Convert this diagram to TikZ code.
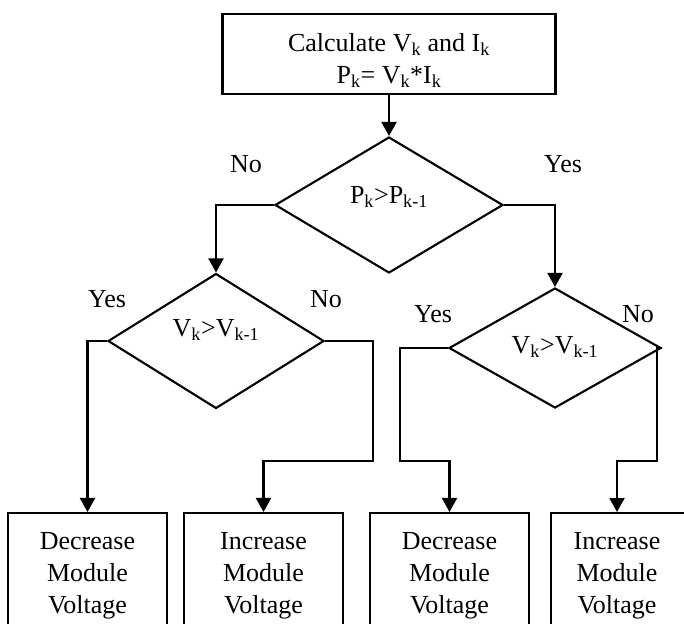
\documentclass[tikz,border=0pt]{standalone}
\usepackage{fontspec}
\setmainfont{Liberation Serif}
\usetikzlibrary{shapes.geometric,arrows.meta}
\begin{document}
\begin{tikzpicture}[x=1pt,y=-1pt,
  line width=2.1pt,
  every node/.style={font=\fontsize{26}{31}\selectfont},
  procbox/.style={draw, rectangle, inner sep=0pt},
  decision/.style={draw, diamond, inner sep=0pt},
  lbl/.style={anchor=base, inner sep=0pt},
  boxtext/.style={anchor=north, align=center, inner sep=0pt, font=\fontsize{26}{32}\selectfont},
  arr/.style={-{Triangle[width=15pt,length=14pt]}, line width=2.1pt},
]
\useasboundingbox (0,0) rectangle (684,623);

% top process box
\node[procbox, minimum width=333pt, minimum height=80pt] (top) at (389,54) {};
\node[boxtext] (toptext) at (389,32.2)
  {Calculate V\textsubscript{k} and I\textsubscript{k}\\P\textsubscript{k}= V\textsubscript{k}*I\textsubscript{k}};

% decisions
\node[decision, minimum width=228pt, minimum height=136pt] (d1) at (389,205) {};
\node[lbl] (t1) at (389,203) {P\textsubscript{k}>P\textsubscript{k-1}};

\node[decision, minimum width=216pt, minimum height=135pt] (d2) at (216,341) {};
\node[lbl] (t2) at (216,336) {V\textsubscript{k}>V\textsubscript{k-1}};

\node[decision, minimum width=212pt, minimum height=120pt] (d3) at (555,348) {};
\node[lbl] (t3) at (555,353) {V\textsubscript{k}>V\textsubscript{k-1}};

% bottom boxes
\node[procbox, minimum width=159pt, minimum height=127pt] (b1) at (87.5,576.5) {};
\node[boxtext] (bt1) at (87.5,531) {Decrease\\Module\\Voltage};
\node[procbox, minimum width=159pt, minimum height=127pt] (b2) at (263.5,576.5) {};
\node[boxtext] (bt2) at (263.5,531) {Increase\\Module\\Voltage};
\node[procbox, minimum width=159pt, minimum height=127pt] (b3) at (449.5,576.5) {};
\node[boxtext] (bt3) at (449.5,531) {Decrease\\Module\\Voltage};
\node[procbox, minimum width=142pt, minimum height=127pt] (b4) at (622,576.5) {};
\node[boxtext] (bt4) at (617,531) {Increase\\Module\\Voltage};

% labels
\node[lbl] (n1) at (246,172) {No};
\node[lbl] (y1) at (563,172) {Yes};
\node[lbl] (y2) at (107,307) {Yes};
\node[lbl] (n2) at (326,307) {No};
\node[lbl] (y3) at (433,322) {Yes};
\node[lbl] (n3) at (638,322) {No};

% junction points
\coordinate (j2) at (373,461);
\coordinate (j3) at (400,461);
\coordinate (j4) at (657,461);
\coordinate (a4) at (617,512);

% connectors
\draw[arr] (top.south) -- (d1.north);
\draw[arr] (d1.west) -| (d2.north);
\draw[arr] (d1.east) -| (d3.north);
\draw[arr] (d2.west) -| (b1.north);
\draw[arr] (d2.east) -| (j2) -| (b2.north);
\draw[arr] (d3.west) -| (j3) -| (b3.north);
\draw[arr] (d3.east) -| (j4) -| (a4);
\end{tikzpicture}
\end{document}
